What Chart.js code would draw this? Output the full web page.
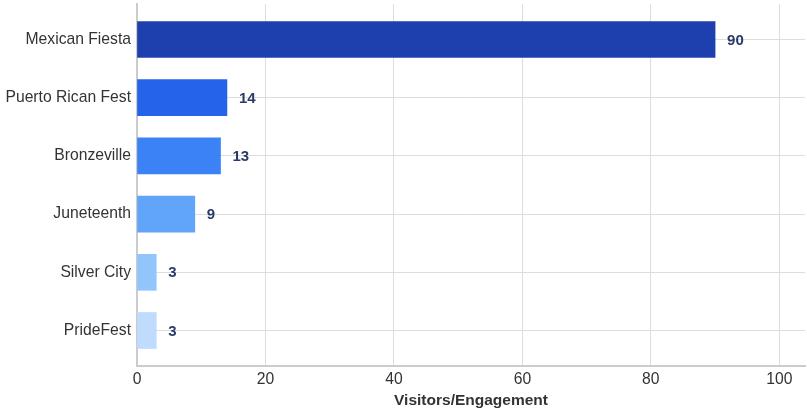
<!DOCTYPE html>
<html>
<head>
<meta charset="utf-8">
<script src="https://cdn.jsdelivr.net/npm/chart.js@4"></script>
<style>
  html, body { margin: 0; padding: 0; background: #fff; }
  #wrap { width: 807px; height: 410px; }
</style>
</head>
<body>
<div id="wrap"><canvas id="festChart"></canvas></div>
<script>
const festivals = ['Mexican Fiesta', 'Puerto Rican Fest', 'Bronzeville', 'Juneteenth', 'Silver City', 'PrideFest'];
const visitors = [90, 14, 13, 9, 3, 3];
const barColors = ['#1e40af', '#2563eb', '#3b82f6', '#60a5fa', '#93c5fd', '#bfdbfe'];
const xTicks = [0, 20, 40, 60, 80, 100];

const FONT = '"Liberation Sans", Arial, sans-serif';

// value labels to the right of each bar
const valueLabels = {
    id: 'valueLabels',
    afterDatasetsDraw(chart) {
        const { ctx } = chart;
        const meta = chart.getDatasetMeta(0);
        ctx.save();
        ctx.font = `bold 15px ${FONT}`;
        ctx.fillStyle = '#2b3a67';
        ctx.textAlign = 'left';
        ctx.textBaseline = 'middle';
        meta.data.forEach((bar, i) => {
            ctx.fillText(String(visitors[i]), bar.x + 12, bar.y + 1);
        });
        ctx.restore();
    }
};

new Chart(document.getElementById('festChart'), {
    type: 'bar',
    data: {
        labels: festivals,
        datasets: [{
            label: 'Visitors/Engagement',
            data: visitors,
            backgroundColor: barColors,
            barThickness: 36
        }]
    },
    options: {
        indexAxis: 'y',
        responsive: true,
        maintainAspectRatio: false,
        animation: false,
        layout: { padding: { top: 4, right: 2, left: 0, bottom: 0 } },
        scales: {
            x: {
                min: 0,
                max: 104,
                afterBuildTicks: (scale) => {
                    scale.ticks = xTicks.map((v) => ({ value: v }));
                },
                afterFit: (scale) => {
                    scale.height = 44;
                    scale.paddingLeft = 0;
                    scale.paddingRight = 0;
                },
                ticks: {
                    padding: 4,
                    color: '#333',
                    font: { family: FONT, size: 15.7 }
                },
                grid: { color: '#dddddd', drawTicks: false },
                border: { color: '#cccccc', width: 2 },
                title: {
                    display: true,
                    text: 'Visitors/Engagement',
                    color: '#333',
                    padding: { top: 1, bottom: 0 },
                    font: { family: FONT, size: 15.5, weight: 'bold' }
                }
            },
            y: {
                offset: true,
                afterFit: (scale) => {
                    scale.width = 137;
                    scale.paddingTop = 0;
                    scale.paddingBottom = 0;
                },
                afterBuildTicks: (scale) => {
                    scale._startValue = -0.61;
                    scale._valueRange = 6.22;
                },
                ticks: {
                    padding: 6,
                    color: '#333',
                    font: { family: FONT, size: 15.7 }
                },
                grid: { offset: false, color: '#dddddd', drawTicks: false },
                border: { color: '#cccccc', width: 2 }
            }
        },
        plugins: {
            legend: { display: false },
            tooltip: { enabled: false }
        }
    },
    plugins: [valueLabels]
});
</script>
</body>
</html>
